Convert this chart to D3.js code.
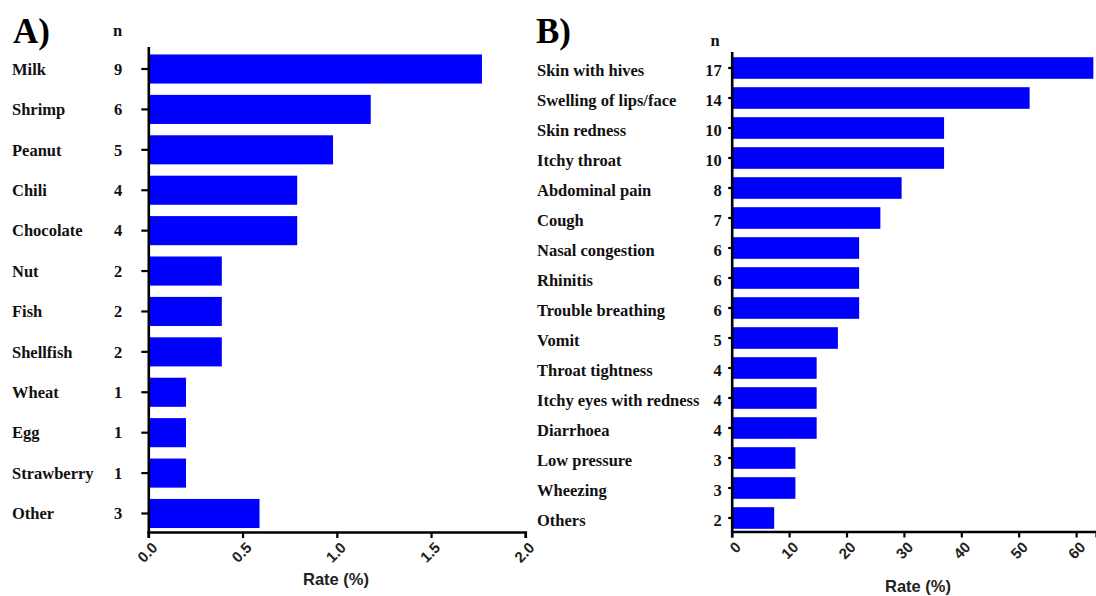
<!DOCTYPE html>
<html>
<head>
<meta charset="utf-8">
<script src="https://cdn.jsdelivr.net/npm/d3@7"></script>
<style>
  html, body { margin: 0; padding: 0; background: #fff; }
  svg { display: block; }
</style>
</head>
<body>
<svg id="chart" width="1096" height="596"></svg>
<script>
// ---- Data ----
const catsA = ["Milk","Shrimp","Peanut","Chili","Chocolate","Nut","Fish","Shellfish","Wheat","Egg","Strawberry","Other"];
const nA    = [9,6,5,4,4,2,2,2,1,1,1,3];
const rateA = [1.77,1.18,0.98,0.79,0.79,0.39,0.39,0.39,0.20,0.20,0.20,0.59];
const ticksA = [0,0.5,1.0,1.5,2.0];

const catsB = ["Skin with hives","Swelling of lips/face","Skin redness","Itchy throat","Abdominal pain","Cough","Nasal congestion","Rhinitis","Trouble breathing","Vomit","Throat tightness","Itchy eyes with redness","Diarrhoea","Low pressure","Wheezing","Others"];
const nB    = [17,14,10,10,8,7,6,6,6,5,4,4,4,3,3,2];
const rateB = [63.0,51.9,37.0,37.0,29.6,25.9,22.2,22.2,22.2,18.5,14.8,14.8,14.8,11.1,11.1,7.4];
const ticksB = [0,10,20,30,40,50,60];

const axisTitle = "Rate (%)";

const svg = d3.select("#chart");
const SERIF = "'Liberation Serif','Times New Roman',serif";
const SANS = "'Liberation Sans',Arial,sans-serif";
const BLUE = "#0000ff";

function panel(cfg) {
  const g = svg.append("g");
  const y = d3.scaleBand().domain(cfg.cats).range(cfg.yRange).paddingInner(0.28).paddingOuter(0.14);
  const x = d3.scaleLinear().domain(cfg.xDomain).range(cfg.xRange);
  const rows = cfg.cats.map((c, i) => ({c, n: cfg.n[i], v: cfg.rate[i]}));

  // bars
  g.selectAll("rect.bar").data(rows).join("rect")
    .attr("class", "bar")
    .attr("x", x(0))
    .attr("y", d => y(d.c))
    .attr("width", d => x(d.v) - x(0))
    .attr("height", y.bandwidth())
    .attr("fill", BLUE);

  // y axis with n labels
  const ya = g.append("g")
    .attr("transform", `translate(${x(0)},0)`)
    .call(d3.axisLeft(y).tickSizeOuter(0).tickSize(cfg.yTick).tickPadding(cfg.yPad)
      .tickFormat((c, i) => cfg.n[i]));
  ya.select(".domain").attr("stroke", "#000").attr("stroke-width", 2.6)
    .attr("d", `M0.5,${cfg.yTop}V${cfg.yBottom}`);
  ya.selectAll(".tick line").attr("stroke", "#000").attr("stroke-width", 2.2);
  ya.selectAll(".tick text")
    .attr("font-family", SERIF).attr("font-weight", "bold").attr("font-size", 16.5)
    .attr("fill", "#111").attr("dy", cfg.labelDy);

  // category labels
  g.selectAll("text.cat").data(rows).join("text")
    .attr("class", "cat")
    .attr("x", cfg.catX)
    .attr("y", d => y(d.c) + y.bandwidth() / 2)
    .attr("dy", cfg.labelDy)
    .attr("font-family", SERIF).attr("font-weight", "bold").attr("font-size", 16.5)
    .attr("fill", "#111")
    .text(d => d.c);

  // x axis
  const xa = g.append("g")
    .attr("transform", `translate(0,${cfg.xAxisY})`)
    .call(d3.axisBottom(x).tickValues(cfg.ticks).tickSizeOuter(0).tickSize(6)
      .tickFormat(cfg.fmt));
  xa.select(".domain").attr("stroke", "#000").attr("stroke-width", 2.6);
  xa.selectAll(".tick line").attr("stroke", "#000").attr("stroke-width", 2.2);
  xa.selectAll(".tick text")
    .attr("font-family", SANS).attr("font-weight", "bold").attr("font-size", 15)
    .attr("fill", "#222")
    .attr("text-anchor", "end")
    .attr("x", 0).attr("y", 0).attr("dy", "0.35em")
    .attr("transform", "translate(6,13) rotate(-45)");

  // axis title
  g.append("text")
    .attr("x", cfg.titleX).attr("y", cfg.titleY)
    .attr("text-anchor", "middle")
    .attr("font-family", SANS).attr("font-weight", "bold").attr("font-size", 16.5)
    .attr("fill", "#222")
    .text(axisTitle);

  // "n" header
  g.append("text")
    .attr("x", cfg.nX).attr("y", cfg.nY)
    .attr("text-anchor", "middle")
    .attr("font-family", SERIF).attr("font-weight", "bold").attr("font-size", 16.5)
    .attr("fill", "#111")
    .text("n");

  // panel letter
  g.append("text")
    .attr("x", cfg.letterX).attr("y", 43)
    .attr("font-family", SERIF).attr("font-weight", "bold").attr("font-size", 35)
    .attr("fill", "#000")
    .text(cfg.letter);
}

panel({
  cats: catsA, n: nA, rate: rateA, ticks: ticksA,
  xDomain: [0, 2.0], xRange: [148.3, 525.3],
  yRange: [48.8, 533.7], yTop: 47, yBottom: 534,
  yTick: 7, yPad: 19, labelDy: 5.8,
  catX: 12, xAxisY: 532,
  fmt: d3.format(".1f"),
  titleX: 336, titleY: 585,
  nX: 117.5, nY: 36,
  letter: "A)", letterX: 13
});

panel({
  cats: catsB, n: nB, rate: rateB, ticks: ticksB,
  xDomain: [0, 63.5], xRange: [731.7, 1096.2],
  yRange: [53, 533], yTop: 52, yBottom: 533,
  yTick: 3.5, yPad: 6.5, labelDy: 8,
  catX: 537, xAxisY: 531.5,
  fmt: d3.format("d"),
  titleX: 918, titleY: 592,
  nX: 715, nY: 46,
  letter: "B)", letterX: 536
});
</script>
</body>
</html>
